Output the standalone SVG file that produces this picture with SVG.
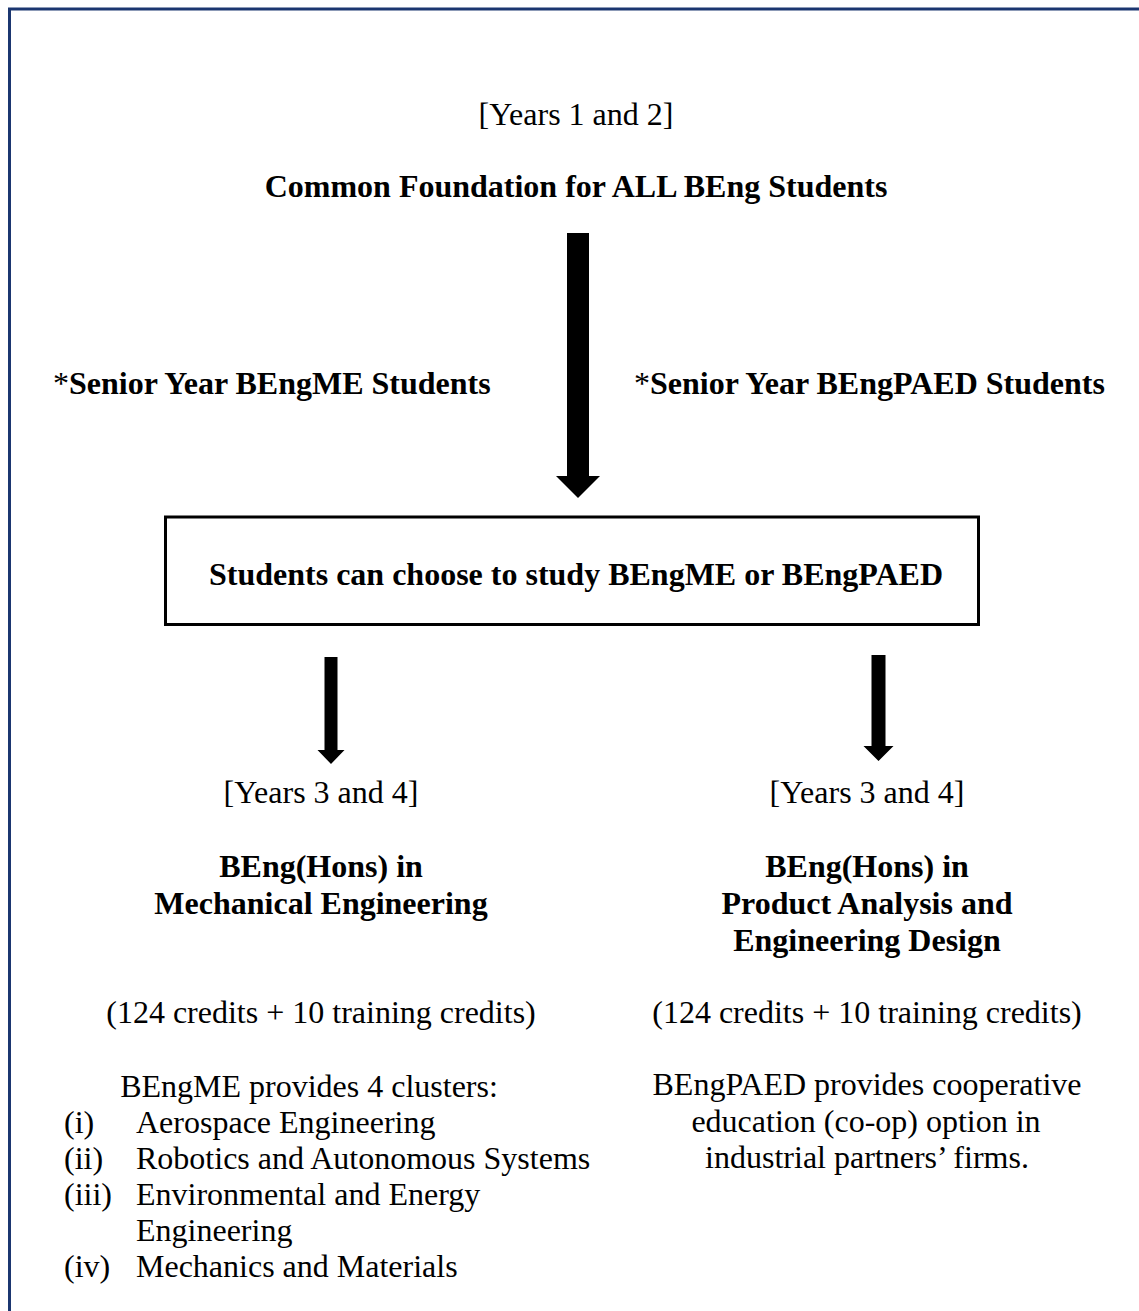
<svg xmlns="http://www.w3.org/2000/svg" width="1139" height="1311" viewBox="0 0 1139 1311">
<style>
  text { font-family: "Liberation Serif", "Times New Roman", serif; font-size: 32px; fill: #000; }
  .b { font-weight: bold; }
  .c { text-anchor: middle; }
  .n { font-weight: normal; }
  .arrow { fill: #000; stroke: none; }
  .box { fill: #fff; stroke: #000; stroke-width: 3; }
</style>
<rect x="0" y="0" width="1139" height="1311" fill="#fff"/>
<path d="M9.5,1311 V9 H1139" fill="none" stroke="#1b3670" stroke-width="3"/>

<g id="top">
  <text class="c" x="576" y="125">[Years 1 and 2]</text>
  <text class="b c" x="576" y="197">Common Foundation for ALL BEng Students</text>
</g>

<g id="label-me">
  <text x="53" y="394"><tspan class="n">*</tspan><tspan class="b">Senior Year BEngME Students</tspan></text>
</g>
<g id="label-paed">
  <text x="634" y="394"><tspan class="n">*</tspan><tspan class="b">Senior Year BEngPAED Students</tspan></text>
</g>

<g id="choice">
  <rect class="box" x="165.5" y="517" width="813" height="107.5"/>
  <text class="b c" x="576" y="585">Students can choose to study BEngME or BEngPAED</text>
</g>

<g id="connectors">
  <polygon class="arrow" points="567,233 589,233 589,476 600,476 578,498 556,476 567,476"/>
  <polygon class="arrow" points="324.5,657 337.5,657 337.5,750 344.5,750 331,764 317.5,750 324.5,750"/>
  <polygon class="arrow" points="871.5,655 885.5,655 885.5,746 893.5,746 878.5,761 863.5,746 871.5,746"/>
</g>

<g id="me">
  <text class="c" x="321" y="803">[Years 3 and 4]</text>
  <text class="b c" x="321" y="877">BEng(Hons) in</text>
  <text class="b c" x="321" y="914">Mechanical Engineering</text>
  <text class="c" x="321" y="1023">(124 credits + 10 training credits)</text>
  <text class="c" x="309" y="1097">BEngME provides 4 clusters:</text>
  <text x="64" y="1133">(i)</text><text x="136" y="1133">Aerospace Engineering</text>
  <text x="64" y="1169">(ii)</text><text x="136" y="1169">Robotics and Autonomous Systems</text>
  <text x="64" y="1205">(iii)</text><text x="136" y="1205">Environmental and Energy</text>
  <text x="136" y="1241">Engineering</text>
  <text x="64" y="1277">(iv)</text><text x="136" y="1277">Mechanics and Materials</text>
</g>

<g id="paed">
  <text class="c" x="867" y="803">[Years 3 and 4]</text>
  <text class="b c" x="867" y="877">BEng(Hons) in</text>
  <text class="b c" x="867" y="914">Product Analysis and</text>
  <text class="b c" x="867" y="951">Engineering Design</text>
  <text class="c" x="867" y="1023">(124 credits + 10 training credits)</text>
  <text class="c" x="867" y="1095">BEngPAED provides cooperative</text>
  <text class="c" x="866" y="1132">education (co-op) option in</text>
  <text class="c" x="867" y="1168">industrial partners’ firms.</text>
</g>
</svg>
